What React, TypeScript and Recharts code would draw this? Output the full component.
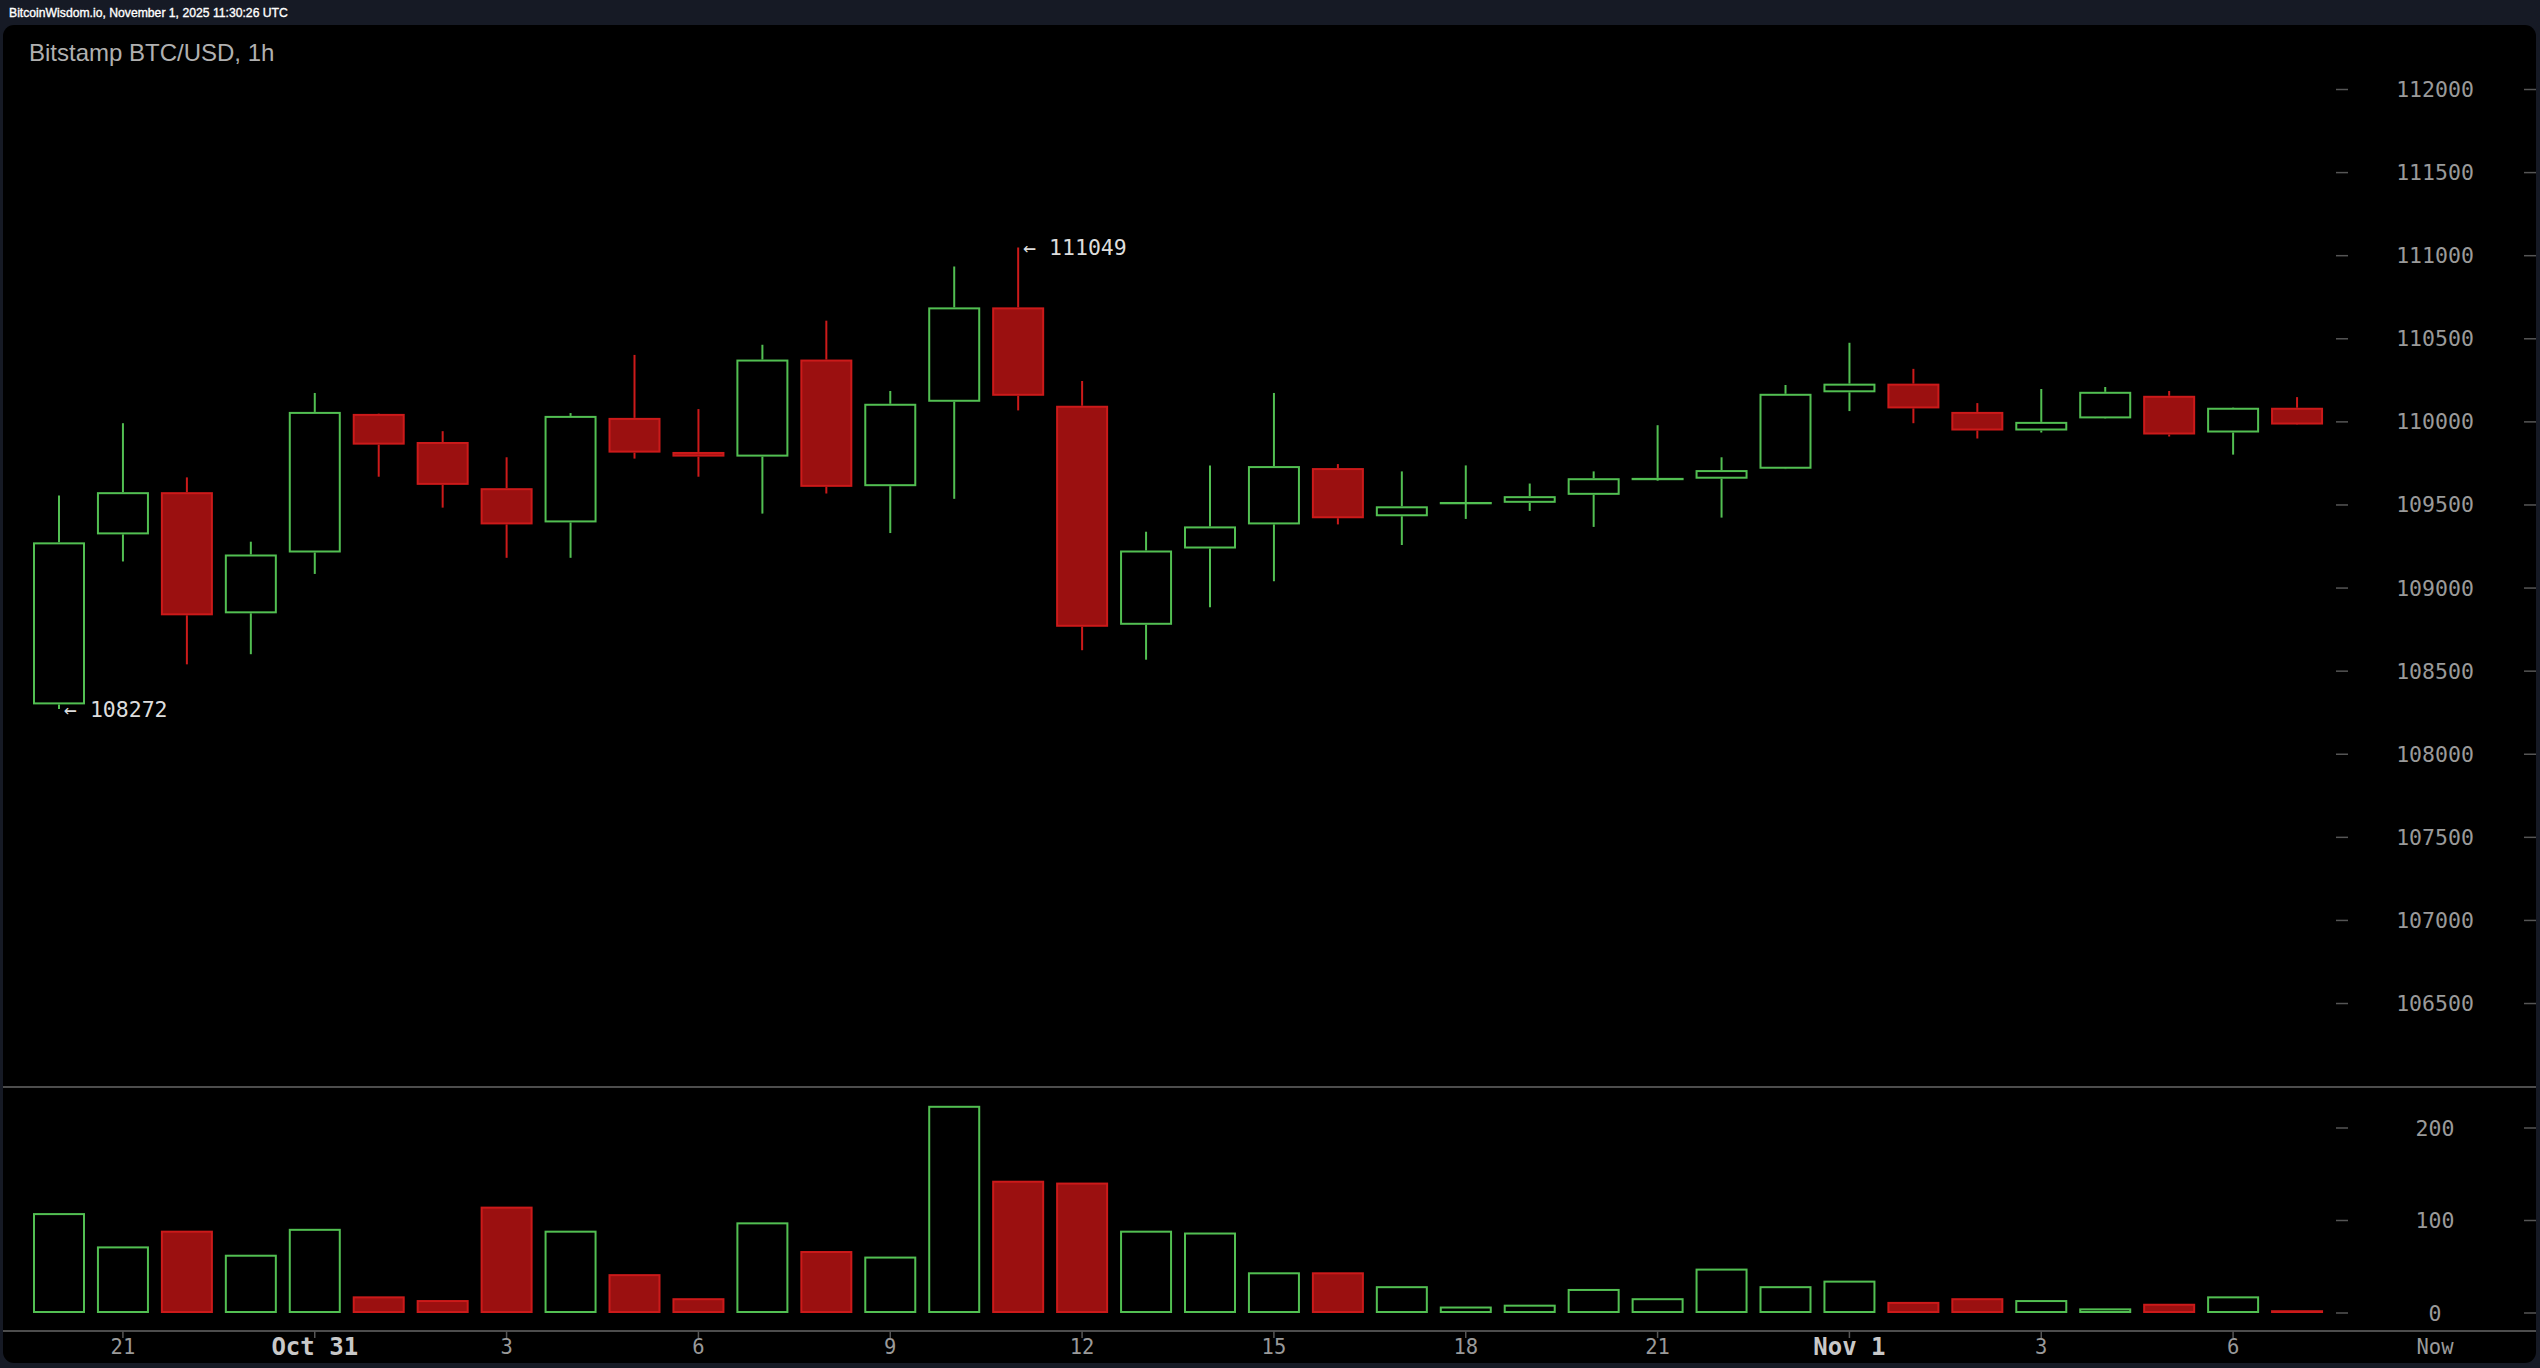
import React from "react";
import { ComposedChart, BarChart, Bar, XAxis, YAxis } from "recharts";

// Bitstamp BTC/USD 1h candles, Oct 30 20:00 -> Nov 1 11:00 UTC
const opens = [
  108300, 109323, 109577, 108848, 109214, 110048, 109879, 109601, 109395, 110024, 109819, 109791,
  110375, 109613, 110121, 110689, 110097, 108779, 109238, 109383, 109722, 109432, 109514, 109513,
  109561, 109659, 109658, 109718, 110178, 110230, 110060, 109948, 110021, 110157, 109936, 110085,
];
const highs = [
  109557, 109992, 109666, 109279, 110174, 110050, 109944, 109787, 110053, 110403, 110077, 110464,
  110609, 110186, 110935, 111049, 110246, 109339, 109738, 110174, 109746, 109702, 109738, 109629,
  109702, 109980, 109787, 110222, 110476, 110319, 110113, 110198, 110210, 110186, 110087, 110149,
];
const lows = [
  108272, 109160, 108541, 108602, 109085, 109670, 109484, 109182, 109182, 109779, 109670, 109448,
  109569, 109331, 109537, 110069, 108626, 108569, 108884, 109041, 109383, 109259, 109416, 109464,
  109368, 109646, 109424, 109716, 110065, 109992, 109900, 109936, 110019, 109912, 109803, 109982,
];
const closes = [
  109275, 109577, 108836, 109202, 110060, 109863, 109621, 109383, 110036, 109815, 109791, 110375,
  109609, 110109, 110689, 110157, 108767, 109226, 109371, 109734, 109420, 109492, 109518, 109553,
  109661, 109663, 109710, 110169, 110230, 110081, 109948, 110000, 110181, 109924, 110085, 109984,
];
const volumes = [
  108, 72, 89, 63, 91, 18, 14, 115, 89, 42, 16, 98,
  67, 61, 224, 143, 141, 89, 87, 44, 44, 29, 7, 9,
  26, 16, 48, 29, 35, 12, 16, 14, 5, 10, 18, 3,
];

const tickIndex = [1, 4, 7, 10, 13, 16, 19, 22, 25, 28, 31, 34];
const tickText = ["21", "Oct 31", "3", "6", "9", "12", "15", "18", "21", "Nov 1", "3", "6"];
const priceTicks = [106500, 107000, 107500, 108000, 108500, 109000, 109500, 110000, 110500, 111000, 111500, 112000];
const volumeTicks = [0, 100, 200];

const GREEN = "#52bf52";
const RED_LINE = "#cc1a1a";
const RED_FILL = "#9b1010";
const MONO = "'DejaVu Sans Mono', monospace";

const data = opens.map((open, i) => ({
  idx: i,
  open,
  high: highs[i],
  low: lows[i],
  close: closes[i],
  volume: volumes[i],
}));

const maxHigh = Math.max(...highs);
const minLow = Math.min(...lows);

const Candle = (props: any) => {
  const { x, y, width, height, payload } = props;
  const { open, close, high, low } = payload;
  const top = Math.min(y, y + height);
  const h = Math.abs(height);
  const k = high === low ? 0 : h / (high - low);
  const yOf = (v: number) => top + (high - v) * k;
  const up = close >= open;
  const color = up ? GREEN : RED_LINE;
  const cx = x + width / 2;
  const bTop = yOf(Math.max(open, close));
  const bBot = yOf(Math.min(open, close));
  return (
    <g>
      <line x1={cx} x2={cx} y1={yOf(high)} y2={bTop} stroke={color} strokeWidth={2} />
      <line x1={cx} x2={cx} y1={bBot} y2={yOf(low)} stroke={color} strokeWidth={2} />
      <rect
        x={x + 1}
        y={bTop + 1}
        width={width - 2}
        height={Math.max(bBot - bTop - 2, 0.3)}
        fill={up ? "#000" : RED_FILL}
        stroke={color}
        strokeWidth={2}
      />
      {high === maxHigh && (
        <text x={cx + 5} y={yOf(high)} dominantBaseline="central" fill="#dddddd" fontSize={21.5} fontFamily={MONO}>
          {"\u2190 " + high}
        </text>
      )}
      {low === minLow && (
        <text x={cx + 5} y={yOf(low)} dominantBaseline="central" fill="#dddddd" fontSize={21.5} fontFamily={MONO}>
          {"\u2190 " + low}
        </text>
      )}
    </g>
  );
};

const VolumeBar = (props: any) => {
  const { x, y, width, height, payload } = props;
  const up = payload.close >= payload.open;
  return (
    <rect
      x={x + 1}
      y={y + 1}
      width={width - 2}
      height={Math.max(height - 2, 0.3)}
      fill={up ? "#000" : RED_FILL}
      stroke={up ? GREEN : RED_LINE}
      strokeWidth={2}
    />
  );
};

const AxisTick = (props: any) => {
  const { y, payload } = props;
  return (
    <g>
      <line x1={2336} x2={2348} y1={y} y2={y} stroke="#555" strokeWidth={1.5} />
      <line x1={2524} x2={2536} y1={y} y2={y} stroke="#555" strokeWidth={1.5} />
      <text x={2435} y={y} textAnchor="middle" dominantBaseline="central" fill="#9a9a9a" fontSize={21.5} fontFamily={MONO}>
        {payload.value}
      </text>
    </g>
  );
};

const TimeTick = (props: any) => {
  const { x, payload } = props;
  const n = tickIndex.indexOf(payload.value);
  if (n < 0) return null;
  const label = tickText[n];
  const month = /[A-Za-z]/.test(label);
  return (
    <g>
      <line x1={x} x2={x} y1={244} y2={251} stroke="#555" strokeWidth={1.5} />
      <text
        x={x}
        y={259.5}
        textAnchor="middle"
        dominantBaseline="central"
        fill={month ? "#c8c8c8" : "#9a9a9a"}
        fontSize={month ? 24 : 20.5}
        fontWeight={month ? "bold" : "normal"}
        fontFamily={MONO}
      >
        {label}
      </text>
    </g>
  );
};

export default function App() {
  return (
    <div style={{ position: "relative", width: 2540, height: 1368, background: "#161a25", overflow: "hidden" }}>
      <style>{"body{margin:0;background:#161a25}"}</style>
      <div
        style={{
          position: "absolute",
          left: 9,
          top: 6,
          fontFamily: "'Liberation Sans', Arial, sans-serif",
          fontSize: 12.2,
          lineHeight: "14px",
          color: "#fff",
          whiteSpace: "nowrap",
          WebkitTextStroke: "0.35px #fff",
        }}
      >
        BitcoinWisdom.io, November 1, 2025 11:30:26 UTC
      </div>
      <div
        style={{
          position: "absolute",
          left: 3,
          top: 25,
          width: 2533,
          height: 1338,
          background: "#000",
          borderRadius: 11,
        }}
      />
      <div
        style={{
          position: "absolute",
          left: 29,
          top: 39,
          fontFamily: "'Liberation Sans', Arial, sans-serif",
          fontSize: 24,
          color: "#b0b0b0",
          whiteSpace: "nowrap",
        }}
      >
        Bitstamp BTC/USD, 1h
      </div>
      <div style={{ position: "absolute", left: 3, top: 1086, width: 2533, height: 2, background: "#4d4d4d" }} />
      <div style={{ position: "absolute", left: 3, top: 1330, width: 2533, height: 2, background: "#4d4d4d" }} />

      <div style={{ position: "absolute", left: 0, top: 0 }}>
        <ComposedChart width={2540} height={1086} data={data} margin={{ top: 39.65, right: 0, left: 27, bottom: 16 }}>
          <XAxis dataKey="idx" type="category" hide />
          <YAxis
            orientation="right"
            type="number"
            width={211}
            domain={[106100, 112300]}
            allowDataOverflow
            ticks={priceTicks}
            interval={0}
            axisLine={false}
            tickLine={false}
            tick={(p: any) => <AxisTick {...p} />}
          />
          <Bar dataKey={(d: any) => [d.low, d.high]} barSize={52} shape={(p: any) => <Candle {...p} />} isAnimationActive={false} />
        </ComposedChart>
      </div>

      <div style={{ position: "absolute", left: 0, top: 1087 }}>
        <BarChart width={2540} height={281} data={data} margin={{ top: 13.25, right: 0, left: 27, bottom: 0 }}>
          <XAxis
            dataKey="idx"
            type="category"
            height={55}
            interval={0}
            axisLine={false}
            tickLine={false}
            tick={(p: any) => <TimeTick {...p} />}
          />
          <YAxis
            orientation="right"
            type="number"
            width={211}
            domain={[0, 230]}
            allowDataOverflow
            ticks={volumeTicks}
            interval={0}
            axisLine={false}
            tickLine={false}
            tick={(p: any) => <AxisTick {...p} />}
          />
          <Bar dataKey="volume" barSize={52} shape={(p: any) => <VolumeBar {...p} />} isAnimationActive={false} />
        </BarChart>
      </div>

      <div
        style={{
          position: "absolute",
          left: 2395,
          width: 80,
          top: 1333,
          textAlign: "center",
          fontFamily: MONO,
          fontSize: 20.5,
          lineHeight: "28px",
          color: "#9a9a9a",
        }}
      >
        Now
      </div>
    </div>
  );
}
